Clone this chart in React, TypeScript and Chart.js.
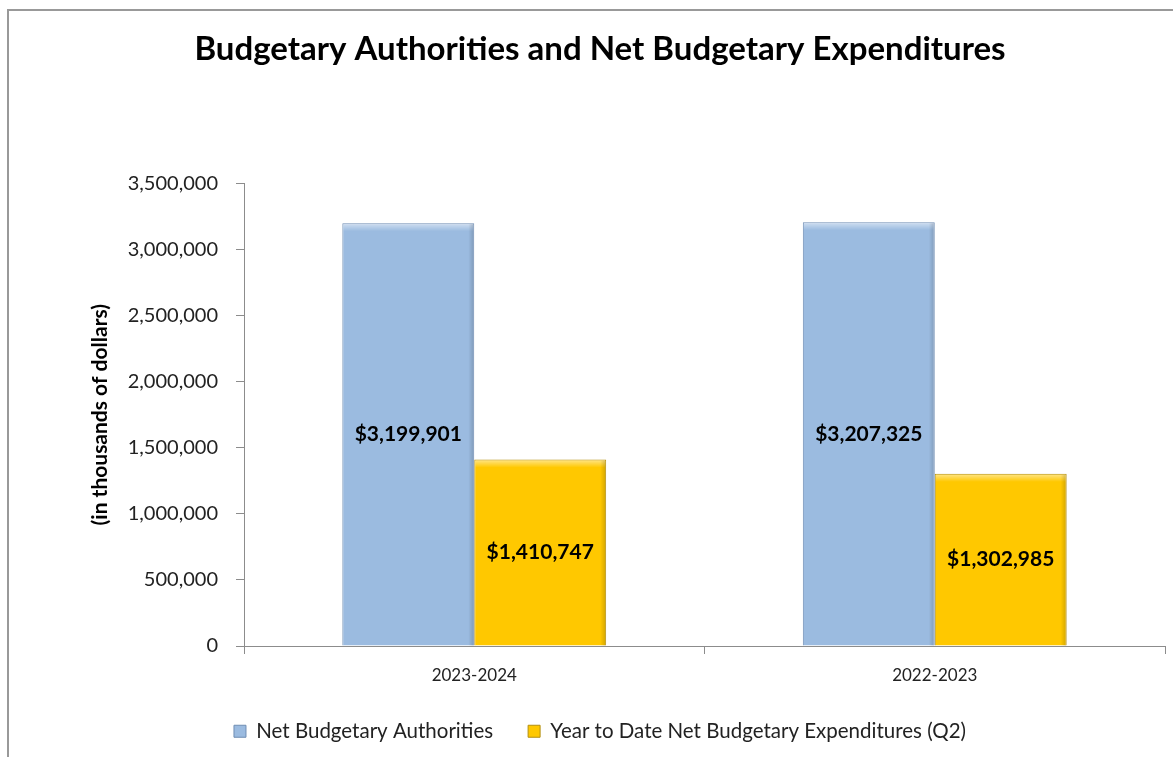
import React, { useEffect, useRef } from "react";
import { Chart, registerables } from "chart.js";

Chart.register(...registerables);

const FONT = 'Lato, "Open Sans", "DejaVu Sans", sans-serif';

const chartTitle = "Budgetary Authorities and Net Budgetary Expenditures";
const yAxisTitle = "(in thousands of dollars)";
const categories = ["2023-2024", "2022-2023"];
const seriesNames = [
  "Net Budgetary Authorities",
  "Year to Date Net Budgetary Expenditures (Q2)",
];
const authorities = [3199901, 3207325];
const expenditures = [1410747, 1302985];
const yMin = 0;
const yMax = 3500000;
const yStep = 500000;

const fmt = (v: number) => v.toLocaleString("en-US");

const bevelPlugin = {
  id: "bevel",
  afterDatasetsDraw(chart: any) {
    const ctx = chart.ctx;
    ctx.save();
    chart.data.datasets.forEach((_ds: any, di: number) => {
      const meta = chart.getDatasetMeta(di);
      meta.data.forEach((el: any) => {
        const { x, y, base, width } = el.getProps(["x", "y", "base", "width"], true);
        const left = x - width / 2;
        const right = x + width / 2;
        const gTop = ctx.createLinearGradient(0, y, 0, y + 8);
        gTop.addColorStop(0, "rgba(255,255,255,0.55)");
        gTop.addColorStop(1, "rgba(255,255,255,0)");
        ctx.fillStyle = gTop;
        ctx.fillRect(left + 1, y + 1, width - 2, 8);
        const gR = ctx.createLinearGradient(right - 6, 0, right, 0);
        gR.addColorStop(0, "rgba(0,0,0,0)");
        gR.addColorStop(1, "rgba(0,0,0,0.18)");
        ctx.fillStyle = gR;
        ctx.fillRect(right - 6, y + 1, 5, base - y - 1);
      });
    });
    ctx.restore();
  },
};

const labelPlugin = {
  id: "barValueLabels",
  afterDatasetsDraw(chart: any) {
    const ctx = chart.ctx;
    ctx.save();
    ctx.font = `bold 21px ${FONT}`;
    ctx.fillStyle = "#000000";
    ctx.textAlign = "center";
    ctx.textBaseline = "middle";
    chart.data.datasets.forEach((ds: any, di: number) => {
      const meta = chart.getDatasetMeta(di);
      meta.data.forEach((el: any, i: number) => {
        const { x, y, base } = el.getProps(["x", "y", "base"], true);
        ctx.fillText("$" + fmt(ds.data[i]), x, (y + base) / 2);
      });
    });
    ctx.restore();
  },
};

export default function App() {
  const ref = useRef<HTMLCanvasElement | null>(null);

  useEffect(() => {
    if (!ref.current) return;
    const chart = new Chart(ref.current, {
      type: "bar",
      data: {
        labels: categories,
        datasets: [
          {
            label: seriesNames[0],
            data: authorities,
            backgroundColor: "#9BBBE0",
            borderColor: "#6F8DB3",
            borderWidth: 1,
            categoryPercentage: 0.573,
            barPercentage: 1,
          },
          {
            label: seriesNames[1],
            data: expenditures,
            backgroundColor: "#FFC800",
            borderColor: "#B38F12",
            borderWidth: 1,
            categoryPercentage: 0.573,
            barPercentage: 1,
          },
        ],
      },
      options: {
        responsive: false,
        animation: false,
        layout: { padding: { left: 28, right: 32, top: 0, bottom: 5.5 } },
        plugins: {
          title: {
            display: true,
            text: chartTitle,
            color: "#000000",
            font: { family: FONT, size: 33, weight: "bold" },
            padding: { top: 30, bottom: 113.9 },
          },
          legend: {
            display: true,
            position: "bottom",
            labels: {
              color: "#222222",
              font: { family: FONT, size: 20.5 },
              boxWidth: 12,
              boxHeight: 12,
              padding: 35,
            },
          },
          tooltip: { enabled: false },
        },
        scales: {
          x: {
            grid: {
              display: true,
              drawOnChartArea: false,
              drawTicks: true,
              tickLength: 8,
              color: "#8C8C8C",
              offset: true,
            },
            border: { display: true, color: "#8C8C8C", width: 1 },
            ticks: {
              color: "#222222",
              font: { family: FONT, size: 17 },
              padding: 11,
            },
            afterFit: (scale: any) => {
              scale.height = 40;
            },
          },
          y: {
            min: yMin,
            max: yMax,
            grid: {
              display: true,
              drawOnChartArea: false,
              drawTicks: true,
              tickLength: 8,
              color: "#8C8C8C",
            },
            border: { display: true, color: "#8C8C8C", width: 1 },
            ticks: {
              stepSize: yStep,
              color: "#222222",
              font: { family: FONT, size: 20 },
              padding: 18,
              callback: (v: any) => fmt(Number(v)),
            },
            title: {
              display: true,
              text: yAxisTitle,
              color: "#000000",
              font: { family: FONT, size: 21, weight: "bold" },
              padding: { top: 53, bottom: 0 },
            },
            afterFit: (scale: any) => {
              scale.width = 209;
            },
          },
        },
      },
      plugins: [bevelPlugin, labelPlugin],
    });
    return () => chart.destroy();
  }, []);

  return (
    <div
      style={{
        position: "relative",
        width: 1173,
        height: 757,
        overflow: "hidden",
        background: "#ffffff",
      }}
    >
      <style>{`body{margin:0;}`}</style>
      <div
        style={{
          position: "absolute",
          left: 7,
          top: 9,
          width: 2000,
          height: 2000,
          borderLeft: "2px solid #999999",
          borderTop: "2px solid #999999",
        }}
      />
      <canvas
        ref={ref}
        width={1190}
        height={757}
        style={{ position: "absolute", left: 7, top: 0, width: 1190, height: 757 }}
      />
    </div>
  );
}
